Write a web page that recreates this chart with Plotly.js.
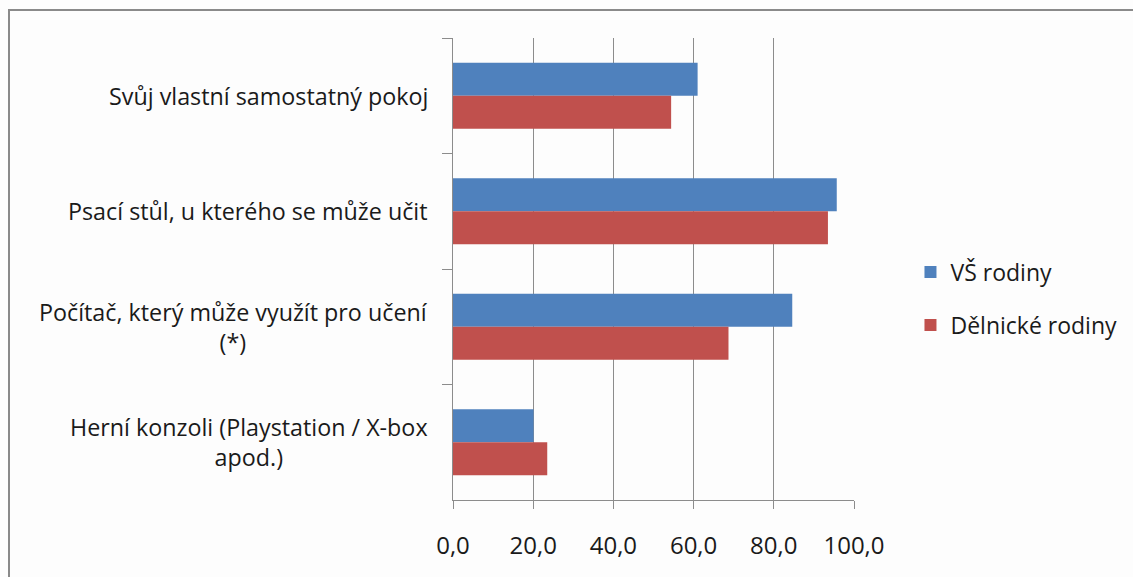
<!DOCTYPE html>
<html>
<head>
<meta charset="utf-8">
<script src="https://cdn.plot.ly/plotly-3.0.1.min.js"></script>
<style>
  html, body { margin: 0; padding: 0; background: #ffffff; }
  #wrap { position: relative; width: 1133px; height: 577px; overflow: hidden; }
  #chart { position: absolute; left: 0; top: 0; width: 1133px; height: 577px; }
  #frame { position: absolute; left: 8px; top: 9px; width: 1130px; height: 580px;
           border-left: 2px solid #8a8a8a; border-top: 2px solid #8a8a8a; pointer-events: none; }
</style>
</head>
<body>
<div id="wrap">
  <div id="chart"></div>
  <div id="frame"></div>
</div>
<script>
const categories = [
  "Svůj vlastní samostatný pokoj",
  "Psací stůl, u kterého se může učit",
  "Počítač, který může využít pro učení<br>(*)",
  "Herní konzoli (Playstation / X-box<br>apod.)"
];
const seriesNames = ["VŠ rodiny", "Dělnické rodiny"];
const vsRodiny = [61.0, 95.7, 84.6, 20.1];
const delnickeRodiny = [54.4, 93.5, 68.7, 23.5];
const tickValues = [0, 20, 40, 60, 80, 100];

const FONT = "'Open Sans', sans-serif";
const catKeys = categories.map((c, i) => "c" + i);

const traces = [
  { type: "bar", orientation: "h", name: seriesNames[0], x: vsRodiny, y: catKeys,
    marker: { color: "#4F81BD" }, legendgroup: "a", hoverinfo: "x" },
  { type: "bar", orientation: "h", name: seriesNames[1], x: delnickeRodiny, y: catKeys,
    marker: { color: "#C0504D" }, legendgroup: "b", hoverinfo: "x" }
];

const annotations = categories.map((c, i) => ({
  xref: "paper", yref: "y", x: -0.058, y: catKeys[i],
  xanchor: "right", yanchor: "middle", align: "center",
  text: c, showarrow: false,
  font: { family: FONT, size: 23.3, color: "#1a1a1a" }
}));

const layout = {
  width: 1133, height: 577,
  margin: { l: 453, r: 278, t: 38, b: 77, pad: 0 },
  paper_bgcolor: "#fdfdfd", plot_bgcolor: "#fdfdfd",
  separators: ",.",
  barmode: "group", bargap: 0.43, bargroupgap: 0,
  font: { family: FONT, size: 23, color: "#1a1a1a" },
  xaxis: {
    range: [0, 100], tickvals: tickValues,
    tickformat: ".1f",
    showgrid: true, gridcolor: "#8c8c8c", gridwidth: 1,
    showline: true, linecolor: "#8c8c8c", linewidth: 1,
    ticks: "outside", ticklen: 8, tickcolor: "#8c8c8c",
    ticklabelstandoff: 16,
    zeroline: false, fixedrange: true,
    tickfont: { family: FONT, size: 24, color: "#1a1a1a" }
  },
  yaxis: {
    type: "category", autorange: "reversed",
    showticklabels: false, tickson: "boundaries",
    ticks: "outside", ticklen: 10, tickcolor: "#8c8c8c",
    showline: true, linecolor: "#8c8c8c", linewidth: 1,
    showgrid: false, zeroline: false, fixedrange: true
  },
  legend: {
    x: 1.138, y: 0.436, xanchor: "left", yanchor: "middle",
    traceorder: "grouped", tracegroupgap: 20,
    font: { family: FONT, size: 23, color: "#1a1a1a" },
    bgcolor: "rgba(0,0,0,0)"
  },
  annotations: annotations,
  showlegend: true
};

Plotly.newPlot("chart", traces, layout, { displayModeBar: false, staticPlot: true });
</script>
</body>
</html>
